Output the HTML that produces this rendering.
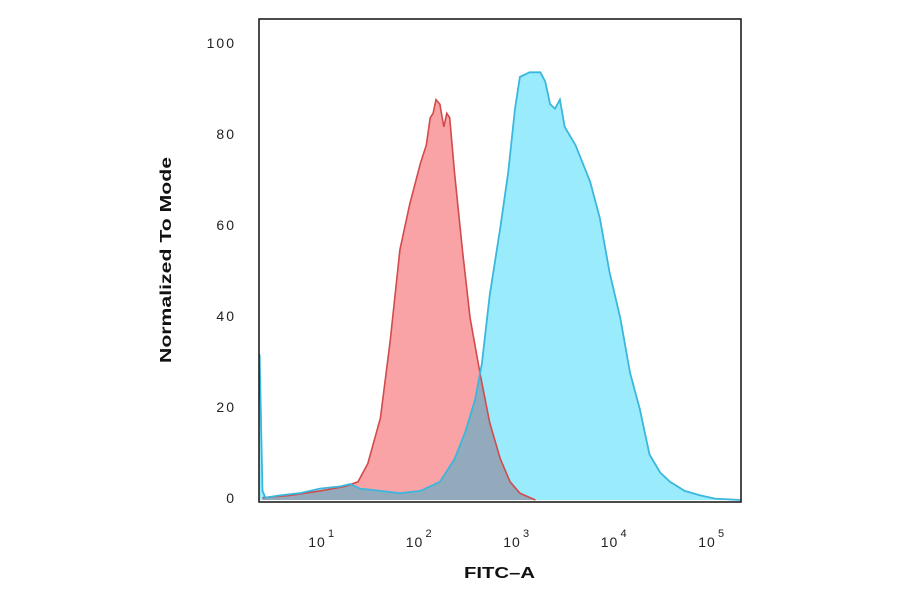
<!DOCTYPE html>
<html><head><meta charset="utf-8"><style>
body{margin:0;background:#fff;}
svg{display:block;font-family:"Liberation Sans",sans-serif;}
</style></head><body>
<svg id="chart" width="900" height="594"></svg>
<script>
const yTicks=[0,20,40,60,80,100];
const xTickExps=[1,2,3,4,5];
const redLog=[0.41,0.69,1,1.26,1.39,1.49,1.62,1.72,1.82,1.92,2.03,2.09,2.13,2.16,2.19,2.23,2.27,2.30,2.33,2.38,2.46,2.54,2.64,2.74,2.85,2.95,3.05,3.21];
const redVal=[0.5,1,2,3,4,8,18,35,55,65,74,78,84,85,88,87,82,85,84,72,55,40,28,17,9,4,1.5,0];
const blueLog=[0.38,0.41,0.44,0.59,0.79,1,1.21,1.31,1.41,1.62,1.82,2.03,2.23,2.38,2.49,2.59,2.66,2.74,2.85,2.93,3.0,3.05,3.15,3.26,3.31,3.36,3.41,3.46,3.51,3.62,3.77,3.87,3.97,4.08,4.18,4.28,4.38,4.49,4.59,4.74,4.9,5.05,5.31];
const blueVal=[32,2,0.5,1,1.5,2.5,3,3.5,2.5,2,1.5,2,4,9,15,22,30,45,60,72,86,93,94,94,92,87,86,88,82,78,70,62,50,40,28,20,10,6,4,2,1,0.3,0];

const L=259,T=19,R=741,B=502;
const xs=l=>320+97.5*(l-1);
const ys=v=>500-4.55*v;
const NS="http://www.w3.org/2000/svg";
const svg=document.getElementById('chart');
function mk(tag,attrs,parent){const e=document.createElementNS(NS,tag);for(const k in attrs)e.setAttribute(k,attrs[k]);(parent||svg).appendChild(e);return e;}
function pathOf(lg,vals){let d='';lg.forEach((l,i)=>{d+=(i?'L':'M')+xs(l).toFixed(1)+','+ys(vals[i]).toFixed(1);});return d;}
const redLine=pathOf(redLog,redVal), blueLine=pathOf(blueLog,blueVal);
const redArea=redLine+'L'+xs(redLog[redLog.length-1])+','+ys(0)+'L'+xs(redLog[0])+','+ys(0)+'Z';
const blueArea=blueLine+'L'+xs(blueLog[blueLog.length-1])+','+ys(0)+'L'+xs(blueLog[0])+','+ys(0)+'Z';
const defs=mk('defs',{});
const cp=mk('clipPath',{id:'bclip'},defs);
mk('path',{d:blueArea},cp);
const cp2=mk('clipPath',{id:'plotclip'},defs);
mk('rect',{x:L,y:T,width:R-L,height:B-T},cp2);
const g=mk('g',{'clip-path':'url(#plotclip)'});
let e;
e=mk('path',{d:redArea,fill:'#f9a3a6'},g);


e=mk('path',{d:blueArea,fill:'#9aecfd'},g);


e=mk('path',{d:redArea,fill:'#93a9bc','clip-path':'url(#bclip)'},g);


e=mk('path',{d:redLine,fill:'none',stroke:'#d24a4a','stroke-width':1.6},g);


e=mk('path',{d:blueLine,fill:'none',stroke:'#3bb7dd','stroke-width':1.8},g);


e=mk('rect',{x:L,y:T,width:R-L,height:B-T,fill:'none',stroke:'#111','stroke-width':1.5});


yTicks.forEach(v=>{
  const t=mk('text',{x:236,y:ys(v)+3,'text-anchor':'end','font-size':14,'letter-spacing':'2',fill:'#222'});
  t.textContent=v;
  
  
});
xTickExps.forEach(p=>{
  const t=mk('text',{x:xs(p)-3,y:547,'text-anchor':'middle','font-size':14,'letter-spacing':'1',fill:'#222'});
  t.textContent='10';
  
  
  const s=mk('text',{x:xs(p)+8,y:537,'font-size':11,fill:'#222'});
  s.textContent=p;
  
  
});
e=mk('text',{x:464,y:578,'font-size':16,'font-weight':'bold',fill:'#111',textLength:71,lengthAdjust:'spacingAndGlyphs'});
e.textContent='FITC–A';


e=mk('text',{x:0,y:0,transform:'translate(171,363) rotate(-90)','font-size':16,'font-weight':'bold',fill:'#111',textLength:206,lengthAdjust:'spacingAndGlyphs'});
e.textContent='Normalized To Mode';


</script>
</body></html>
